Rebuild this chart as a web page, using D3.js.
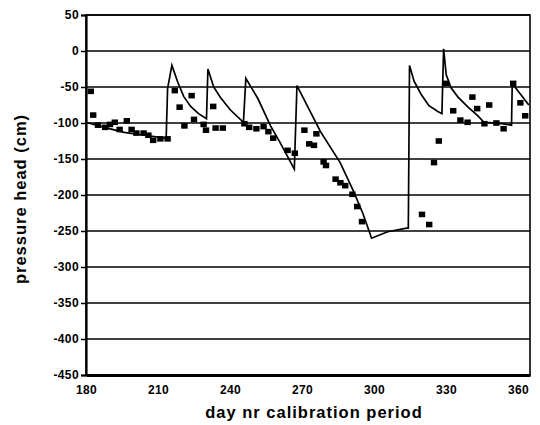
<!DOCTYPE html>
<html>
<head>
<meta charset="UTF-8">
<title>pressure head calibration</title>
<script src="https://d3js.org/d3.v7.min.js"></script>
<style>
  body { margin: 0; background: #fff; }
  text { font-family: "Liberation Sans", Arial, sans-serif; fill: #000; }
  .tick-label { font-size: 12px; font-weight: bold; letter-spacing: 0.4px; }
  .axis-title { font-size: 16.5px; font-weight: bold; letter-spacing: 1px; }
</style>
</head>
<body>
<svg id="chart" width="540" height="425"></svg>
<script>
// simulated pressure head (line)
const simDay = [180, 187.6, 195.9, 204.3, 213.4, 214.0, 215.8, 218.2, 220.7, 223.6, 226.9, 230.2,
  230.8, 233.2, 236.1, 240.2, 245.6, 246.6, 251.6, 256.9, 261, 266.8, 267.9, 277.7, 285.9,
  291.2, 295.3, 299, 305.7, 313.6, 314.3, 314.8, 316.7, 319.6, 322.9, 326.6, 328.3, 329,
  330.1, 332.1, 335, 339.2, 343.3, 345.8, 351, 357.3, 357.6, 364.5];
const simHead = [-99, -106, -113, -117, -121, -52, -20, -43, -63, -77, -87, -94,
  -25, -50, -65, -82, -99, -38, -66, -104, -128, -164, -48, -112, -155,
  -193, -225, -260, -251, -246, -246, -20, -42, -60, -76, -84, -87, 3,
  -33, -51, -64, -78, -90, -99, -100, -103, -45, -75];

// measured pressure head (squares)
const obsDay = [182, 183, 185, 188, 190, 192, 194, 197, 199, 201, 204, 206, 208, 211, 214,
  217, 219, 221, 224, 225, 229, 230, 233, 234, 237, 246, 248, 251, 254, 256, 258, 264, 267,
  271, 273, 276, 275, 279, 280, 284, 286, 288, 291, 293, 295,
  320, 323, 325, 327, 330, 333, 336, 339, 341, 343, 346, 348, 351, 354, 358, 361, 363];
const obsHead = [-56, -89, -103, -106, -102, -99, -109, -97, -109, -114, -114, -117, -124, -122, -122,
  -55, -78, -104, -62, -95, -102, -110, -77, -107, -107, -101, -106, -108, -105, -112, -121, -138, -142,
  -110, -129, -115, -131, -154, -159, -178, -183, -187, -199, -216, -237,
  -227, -241, -155, -125, -45, -83, -96, -99, -64, -80, -101, -75, -100, -108, -45, -72, -90];

const xTicks = [180, 210, 240, 270, 300, 330, 360];
const yTicks = [50, 0, -50, -100, -150, -200, -250, -300, -350, -400, -450];

const margin = { top: 15, right: 10, bottom: 50, left: 86 },
      width = 540 - margin.left - margin.right,
      height = 425 - margin.top - margin.bottom;

const svg = d3.select("#chart");
const g = svg.append("g").attr("transform", `translate(${margin.left},${margin.top})`);

const x = d3.scaleLinear().domain([180, 365]).range([0, width]);
const y = d3.scaleLinear().domain([-450, 50]).range([height, 0]);

// gridlines
g.selectAll(".grid").data(yTicks).enter().append("line")
  .attr("x1", 0).attr("x2", width)
  .attr("y1", d => y(d)).attr("y2", d => y(d))
  .attr("stroke", "#000").attr("stroke-width", 1.3);

// frame
g.append("rect").attr("x", 0).attr("y", 0).attr("width", width).attr("height", height)
  .attr("fill", "none").attr("stroke", "#000").attr("stroke-width", 1.6);

// y axis
const yAxis = g.append("g").call(d3.axisLeft(y).tickValues(yTicks).tickSize(5).tickFormat(d3.format("d")));
yAxis.select(".domain").attr("stroke-width", 2.2);
yAxis.selectAll(".tick line").attr("stroke-width", 1.5);
yAxis.selectAll("text").attr("class", "tick-label").attr("x", -7).text(d => String(d));

// x axis
const xAxis = g.append("g").attr("transform", `translate(0,${height})`)
  .call(d3.axisBottom(x).tickValues(xTicks).tickSize(0).tickPadding(10));
xAxis.select(".domain").attr("stroke-width", 3);
xAxis.selectAll("text").attr("class", "tick-label");

// simulated line
const simData = simDay.map((d, i) => ({ day: d, head: simHead[i] }));
g.append("path").datum(simData)
  .attr("fill", "none").attr("stroke", "#000").attr("stroke-width", 1.7)
  .attr("stroke-linejoin", "miter")
  .attr("d", d3.line().x(d => x(d.day)).y(d => y(d.head)));

// measured squares
const obsData = obsDay.map((d, i) => ({ day: d, head: obsHead[i] }));
g.selectAll(".obs").data(obsData).enter().append("rect")
  .attr("x", d => x(d.day) - 3.2).attr("y", d => y(d.head) - 2.8)
  .attr("width", 6.4).attr("height", 5.6).attr("fill", "#000");

// titles
svg.append("text").attr("class", "axis-title")
  .attr("x", 314).attr("y", 418)
  .attr("text-anchor", "middle").text("day nr calibration period");
svg.append("text").attr("class", "axis-title")
  .attr("transform", "translate(26,199) rotate(-90)")
  .attr("text-anchor", "middle").text("pressure head (cm)");
</script>
</body>
</html>
